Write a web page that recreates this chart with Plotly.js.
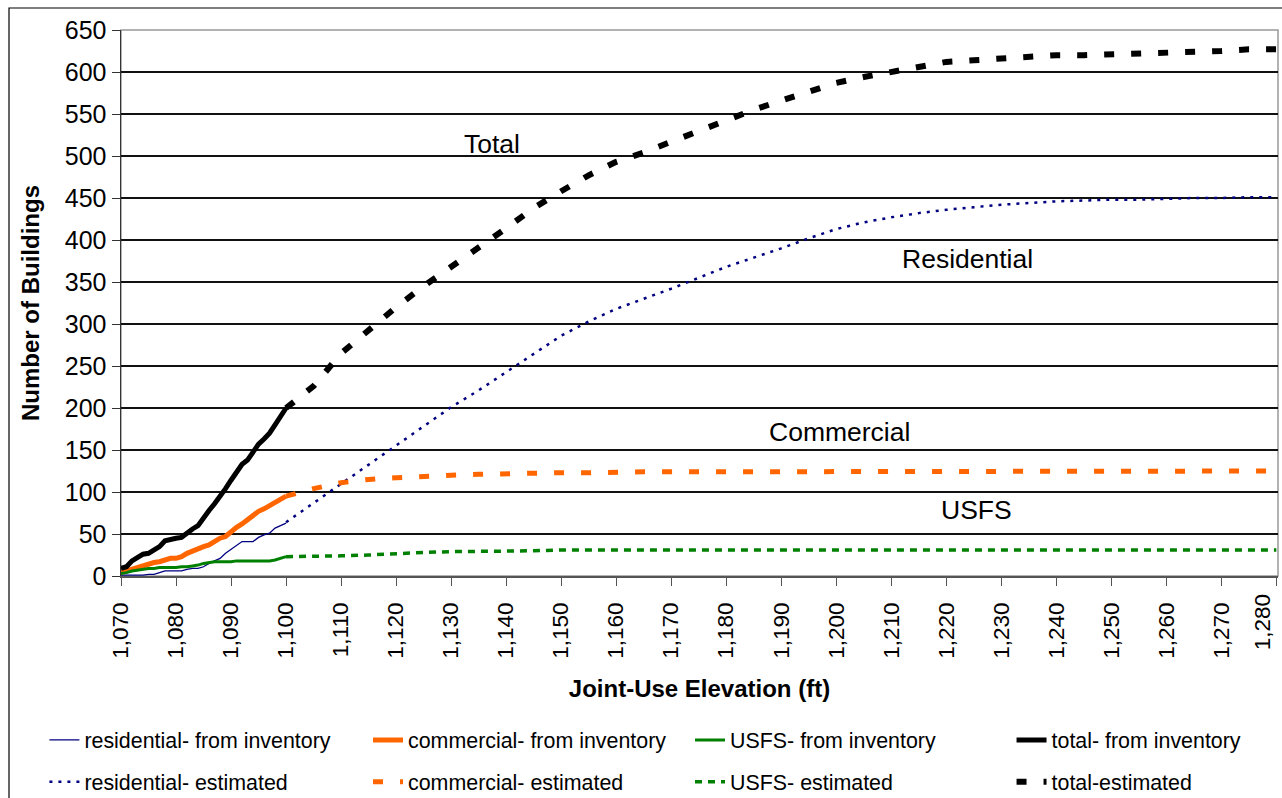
<!DOCTYPE html>
<html>
<head>
<meta charset="utf-8">
<script src="https://cdn.plot.ly/plotly-3.0.1.min.js"></script>
<style>html,body{margin:0;padding:0;background:#fff;}#chart{width:1282px;height:798px;}</style>
</head>
<body>
<div id="chart"></div>
<script>
// ---- data ----
const elevInv = [1070,1071,1072,1073,1074,1075,1076,1077,1078,1079,1080,1081,1082,1083,1084,1085,1086,1087,1088,1089,1090,1091,1092,1093,1094,1095,1096,1097,1098,1099,1100];
const residentialInv = [1,1,1,1,1,2,2,4,6,6,6,6,8,9,9,11,15,18,21,27,32,36,41,41,41,46,49,51,57,60,63];
const commercialInv  = [4,6,9,11,12,14,16,17,19,21,21,23,27,30,32,35,37,41,45,47,53,58,62,67,72,77,80,84,88,92,95];
const usfsInv        = [3,4,6,7,8,9,9,10,10,10,10,11,11,12,13,15,16,17,17,17,17,18,18,18,18,18,18,18,19,21,23];
const totalInv       = [9,11,18,22,26,27,31,35,42,44,45,46,52,56,60,70,78,86,94,104,114,124,133,138,148,157,163,170,180,190,200];

const elevEst = [1100,1105,1110,1115,1120,1125,1130,1135,1140,1145,1150,1155,1160,1165,1170,1175,1180,1185,1190,1195,1200,1205,1210,1215,1220,1225,1230,1235,1240,1245,1250,1255,1260,1265,1270,1275,1280];
const residentialEst = [64,87,110,132,155,178,201,221,243,264,286,303,318,330,342,355,368,379,390,402,413,421,427,432,436,439,442,444,446,447,448,448,449,450,450,451,451];
const commercialEst  = [95,104,111,115,117,119,120,121,122,123,123,123,124,124,124,124,124,124,124,124,124,124,124,124,124,124,124,124,124,124,125,125,125,125,125,125,125];
const usfsEst        = [23,23,24,25,27,28,29,29,30,30,31,31,32,32,31,31,31,31,31,31,31,31,31,31,31,31,31,31,31,31,31,31,31,31,31,31,31];
const totalEst       = [200,226,265,293,320,345,369,391,414,438,458,477,493,504,517,530,543,555,566,577,587,594,600,607,612,614,616,618,620,620,621,622,623,623,625,627,627];

const seriesNames = ['residential- from inventory','commercial- from inventory','USFS- from inventory','total- from inventory',
                     'residential- estimated','commercial- estimated','USFS- estimated','total-estimated'];
const curveLabels = ['Total','Residential','Commercial','USFS'];
const labelX = [1137.4, 1223.9, 1200.6, 1225.5];
const labelY = [514, 377, 171, 79];
const xTicks = [1070,1080,1090,1100,1110,1120,1130,1140,1150,1160,1170,1180,1190,1200,1210,1220,1230,1240,1250,1260,1270,1280];
const xTickText = ['1,070','1,080','1,090','1,100','1,110','1,120','1,130','1,140','1,150','1,160','1,170','1,180','1,190','1,200','1,210','1,220','1,230','1,240','1,250','1,260','1,270','1,280'];
const yTicks = [0,50,100,150,200,250,300,350,400,450,500,550,600,650];

// ---- styles ----
const FONT = 'Liberation Sans, Arial, sans-serif';
const NAVY = '#000080', ORANGE = '#FF6600', GREEN = '#008000', BLACK = '#000000';

function tr(x, y, name, color, width, dash, legend, group) {
  return {x: x, y: y, name: name, type: 'scatter', mode: 'lines',
          line: {color: color, width: width, dash: dash},
          legend: legend, legendgroup: group, hoverinfo: 'x+y+name'};
}

const data = [
  tr(elevInv, residentialInv, seriesNames[0], NAVY, 1.3, 'solid', 'legend', 'a'),
  tr(elevInv, commercialInv, seriesNames[1], ORANGE, 5, 'solid', 'legend2', 'a'),
  tr(elevInv, usfsInv, seriesNames[2], GREEN, 3, 'solid', 'legend3', 'a'),
  tr(elevInv, totalInv, seriesNames[3], BLACK, 5, 'solid', 'legend4', 'a'),
  tr(elevEst, residentialEst, seriesNames[4], NAVY, 2.5, '3px,6px', 'legend', 'b'),
  tr(elevEst, commercialEst, seriesNames[5], ORANGE, 5, '10px,17px', 'legend2', 'b'),
  tr(elevEst, usfsEst, seriesNames[6], GREEN, 3.5, '7px,6px', 'legend3', 'b'),
  tr(elevEst, totalEst, seriesNames[7], BLACK, 6, '10px,17px', 'legend4', 'b')
];

function leg(x) {
  return {x: x, xref: 'paper', xanchor: 'left', y: 0.0464, yref: 'container', yanchor: 'middle',
          orientation: 'v', traceorder: 'grouped', tracegroupgap: 11, bgcolor: 'rgba(0,0,0,0)',
          font: {family: FONT, size: 21.4, color: '#000'}};
}

const annotations = curveLabels.map((t, i) => ({
  x: labelX[i], y: labelY[i], xref: 'x', yref: 'y', text: t, showarrow: false,
  font: {family: FONT, size: 26.5, color: '#000'}, xanchor: 'center', yanchor: 'middle'
}));
// last x tick label sits left of its tick (as in the reference), so it is drawn as an annotation
annotations.push({
  x: xTicks[xTicks.length - 1], xref: 'x', xshift: -13, y: -0.0842, yref: 'paper',
  text: xTickText[xTickText.length - 1], textangle: -90, showarrow: false,
  xanchor: 'center', yanchor: 'middle', font: {family: FONT, size: 22.5, color: '#000'}
});
const shownTickText = xTickText.slice(0, -1).concat(['']);

const layout = {
  width: 1282, height: 798,
  margin: {l: 121, r: 4, t: 30, b: 222, pad: 0},
  paper_bgcolor: '#fff', plot_bgcolor: '#fff',
  font: {family: FONT, size: 22, color: '#000'},
  xaxis: {
    range: [1070, 1280.3], tickmode: 'array', tickvals: xTicks, ticktext: shownTickText, tickangle: -90,
    ticks: 'outside', ticklen: 8, tickcolor: '#555', ticklabelstandoff: 8,
    showgrid: false, zeroline: false, automargin: false,
    showline: true, linecolor: '#555', linewidth: 1.5,
    tickfont: {family: FONT, size: 22.5},
    title: {text: 'Joint-Use Elevation (ft)', font: {family: FONT, size: 24, weight: 'bold'}, standoff: 22}
  },
  yaxis: {
    range: [0, 650], tickvals: yTicks, ticks: 'outside', ticklen: 8, tickcolor: '#333',
    showgrid: true, gridcolor: '#111', gridwidth: 1.2, zeroline: false, automargin: false,
    showline: true, linecolor: '#333', linewidth: 1.5,
    tickfont: {family: FONT, size: 25},
    title: {text: 'Number of Buildings', font: {family: FONT, size: 24, weight: 'bold'}, standoff: 18}
  },
  legend: leg(-0.0662), legend2: leg(0.2135), legend3: leg(0.4918), legend4: leg(0.7697),
  annotations: annotations,
  shapes: [
    {type: 'rect', xref: 'paper', yref: 'paper', x0: 0, x1: 1, y0: 0, y1: 1,
     line: {color: '#999', width: 1.5}, layer: 'below'},
    {type: 'rect', xref: 'paper', yref: 'paper', x0: -0.0968, x1: 1.02, y0: -0.42, y1: 1.0403,
     line: {color: '#000', width: 1.2}}
  ],
  showlegend: true
};

Plotly.newPlot('chart', data, layout, {staticPlot: true, displayModeBar: false});
</script>
</body>
</html>
